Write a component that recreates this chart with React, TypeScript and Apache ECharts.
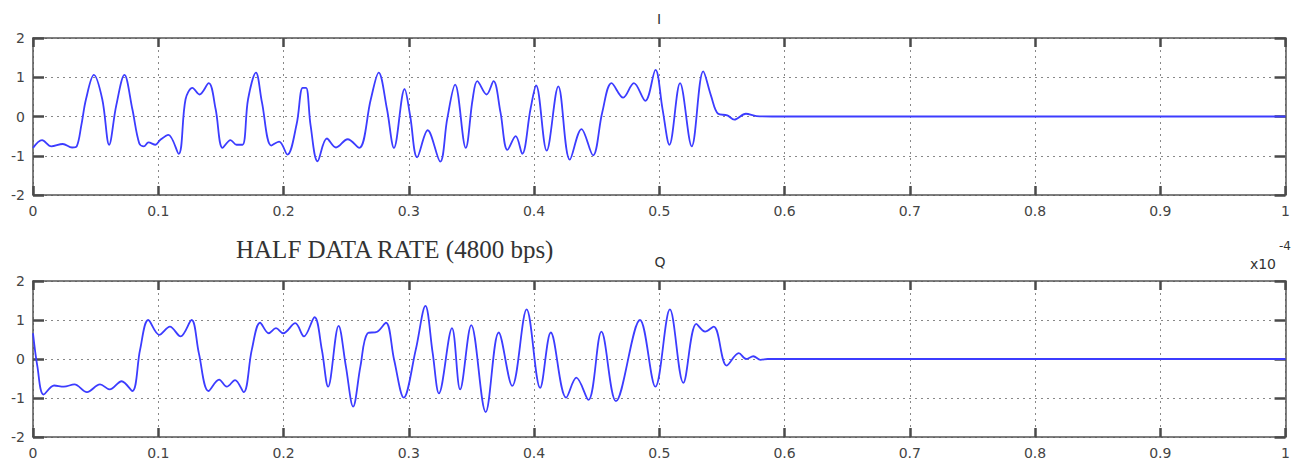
import React, { useEffect, useRef } from "react";
import * as echarts from "echarts";

// Time axis (units of 1e-4 s) and amplitude of the I channel
const iTime = [0, 0.0072, 0.0146, 0.0238, 0.0312, 0.0349, 0.0386, 0.0423, 0.0486, 0.0553, 0.0608, 0.0664, 0.073, 0.0793, 0.0848, 0.0885, 0.0922, 0.0978, 0.1015, 0.1081, 0.1163, 0.1218, 0.1273, 0.1329, 0.1403, 0.1458, 0.1514, 0.1577, 0.1625, 0.1673, 0.1717, 0.178, 0.1828, 0.1902, 0.1965, 0.2031, 0.2105, 0.2153, 0.218, 0.2216, 0.2272, 0.2346, 0.2419, 0.2512, 0.2604, 0.2697, 0.276, 0.2826, 0.2882, 0.2967, 0.3011, 0.3067, 0.3151, 0.3251, 0.3307, 0.337, 0.3455, 0.351, 0.3547, 0.3621, 0.3677, 0.3732, 0.3788, 0.3854, 0.3906, 0.3972, 0.4017, 0.4101, 0.4194, 0.4286, 0.4379, 0.4471, 0.4545, 0.4619, 0.4712, 0.4797, 0.4889, 0.497, 0.5026, 0.5081, 0.5166, 0.5259, 0.5351, 0.5414, 0.547, 0.5543, 0.5599, 0.5691, 0.5776, 0.59, 1.0];
const iAmp = [-0.8, -0.6, -0.76, -0.7, -0.79, -0.76, -0.22, 0.44, 1.06, 0.44, -0.72, 0.27, 1.06, 0.19, -0.68, -0.76, -0.66, -0.72, -0.6, -0.47, -0.95, 0.44, 0.73, 0.56, 0.85, 0.19, -0.8, -0.6, -0.72, -0.72, 0.44, 1.12, 0.36, -0.74, -0.64, -0.97, -0.19, 0.73, 0.73, -0.22, -1.14, -0.56, -0.79, -0.58, -0.8, 0.44, 1.12, 0.19, -0.8, 0.7, 0.02, -1.04, -0.35, -1.15, -0.06, 0.81, -0.8, 0.44, 0.9, 0.56, 0.9, 0.11, -0.85, -0.5, -0.95, 0.19, 0.79, -0.87, 0.77, -1.1, -0.32, -0.99, 0.11, 0.85, 0.48, 0.85, 0.4, 1.19, 0.19, -0.72, 0.85, -0.76, 1.15, 0.52, 0.07, 0.03, -0.08, 0.07, 0.01, 0, 0];

// Time axis and amplitude of the Q channel
const qTime = [0, 0.0035, 0.0085, 0.0169, 0.0246, 0.0331, 0.0431, 0.0535, 0.0612, 0.0708, 0.0793, 0.0855, 0.092, 0.1008, 0.1093, 0.1178, 0.1266, 0.1324, 0.1401, 0.1486, 0.1547, 0.1613, 0.1682, 0.1747, 0.1813, 0.1882, 0.194, 0.1998, 0.2094, 0.2163, 0.2248, 0.2306, 0.2356, 0.244, 0.2498, 0.2556, 0.2614, 0.2671, 0.2748, 0.2818, 0.2883, 0.296, 0.3056, 0.3133, 0.3191, 0.3241, 0.3345, 0.341, 0.3499, 0.3614, 0.3718, 0.3826, 0.3941, 0.4049, 0.4134, 0.4257, 0.4338, 0.4434, 0.4538, 0.4654, 0.4846, 0.4969, 0.5085, 0.5192, 0.5296, 0.5366, 0.5435, 0.5539, 0.5635, 0.5693, 0.5751, 0.5808, 0.5866, 0.6, 1.0];
const qAmp = [0.66, -0.19, -0.91, -0.68, -0.71, -0.65, -0.85, -0.65, -0.78, -0.57, -0.82, 0.24, 1.0, 0.62, 0.83, 0.58, 1.0, 0.15, -0.82, -0.53, -0.71, -0.54, -0.85, 0.24, 0.93, 0.66, 0.79, 0.66, 0.92, 0.58, 1.07, 0.24, -0.71, 0.85, -0.19, -1.22, -0.19, 0.66, 0.7, 0.93, -0.02, -0.99, 0.24, 1.36, 0.15, -0.88, 0.79, -0.78, 0.87, -1.36, 0.68, -0.69, 1.27, -0.74, 0.68, -0.99, -0.48, -1.05, 0.7, -1.08, 1.0, -0.71, 1.27, -0.61, 0.9, 0.7, 0.83, -0.17, 0.15, 0, 0.07, -0.02, 0, 0, 0];

const xTickLabels = ["0", "0.1", "0.2", "0.3", "0.4", "0.5", "0.6", "0.7", "0.8", "0.9", "1"];
const yTickLabels = ["-2", "-1", "0", "1", "2"];

const titles = ["I", "Q"];
const annotation = "HALF DATA RATE (4800 bps)";
const exponentBase = "x10";
const exponent = "-4";

const LINE_COLOR = "#3c3cff";
const AXIS_COLOR = "#555";
const LABEL_FONT = "'DejaVu Sans', 'Liberation Sans', Arial, sans-serif";

export default function App() {
  const ref = useRef<HTMLDivElement>(null);

  useEffect(() => {
    if (!ref.current) return;
    const chart = echarts.init(ref.current, undefined, { renderer: "svg" });

    const grids = [
      { left: 33, top: 38, width: 1256, height: 157 },
      { left: 33, top: 281, width: 1256, height: 156 },
    ];

    const xLabel = (v: number) => xTickLabels[Math.round(v * 10)] ?? "";
    const yLabel = (v: number) => yTickLabels[Math.round(v + 2)] ?? "";

    const gridLine = { show: true, lineStyle: { color: "#888", type: [2, 4] as any, width: 1 } };
    const tick = (len: number) => ({ show: true, inside: true, length: len, interval: 0, lineStyle: { color: "#4a4a4a", width: 2.5, type: "solid" as const } });
    const line = { show: true, onZero: false, lineStyle: { color: AXIS_COLOR, width: 1.5 } };

    const xAxes: any[] = [];
    const yAxes: any[] = [];
    grids.forEach((_, gi) => {
      xAxes.push({
        type: "value", gridIndex: gi, min: 0, max: 1, interval: 0.1, position: "bottom",
        axisLine: line, axisTick: tick(9),
        axisLabel: { formatter: xLabel, color: "#444", fontSize: 14, fontFamily: LABEL_FONT, margin: 9 },
        splitLine: gridLine,
      });
      xAxes.push({
        type: "value", gridIndex: gi, min: 0, max: 1, interval: 0.1, position: "top",
        axisLine: line, axisTick: tick(9),
        axisLabel: { show: false }, splitLine: { show: false },
      });
      yAxes.push({
        type: "value", gridIndex: gi, min: -2, max: 2, interval: 1, position: "left",
        axisLine: line, axisTick: tick(11),
        axisLabel: { formatter: yLabel, color: "#444", fontSize: 14, fontFamily: LABEL_FONT, margin: 8 },
        splitLine: gridLine,
      });
      yAxes.push({
        type: "value", gridIndex: gi, min: -2, max: 2, interval: 1, position: "right",
        axisLine: line, axisTick: tick(11),
        axisLabel: { show: false }, splitLine: { show: false },
      });
    });

    const iData = iTime.map((t, k) => [t, iAmp[k]]);
    const qData = qTime.map((t, k) => [t, qAmp[k]]);

    chart.setOption({
      animation: false,
      backgroundColor: "#ffffff",
      grid: grids.map((g) => ({ ...g, show: false })),
      xAxis: xAxes,
      yAxis: yAxes,
      series: [
        {
          type: "line", xAxisIndex: 0, yAxisIndex: 0, data: iData, showSymbol: false, smooth: 0.35,
          lineStyle: { color: LINE_COLOR, width: 1.8 },
        },
        {
          type: "line", xAxisIndex: 2, yAxisIndex: 2, data: qData, showSymbol: false, smooth: 0.35,
          lineStyle: { color: LINE_COLOR, width: 1.8 },
        },
      ],
      graphic: [
        { type: "text", x: 659, y: 19, style: { text: titles[0], fontSize: 14, fontFamily: LABEL_FONT, fill: "#333", align: "center", verticalAlign: "middle" } },
        { type: "text", x: 660, y: 262, style: { text: titles[1], fontSize: 14, fontFamily: LABEL_FONT, fill: "#333", align: "center", verticalAlign: "middle" } },
        { type: "text", x: 236, y: 249, style: { text: annotation, fontSize: 25, fontFamily: "'Liberation Serif', 'Times New Roman', serif", fill: "#333", align: "left", verticalAlign: "middle" } },
        { type: "text", x: 1276, y: 264, style: { text: exponentBase, fontSize: 14, fontFamily: LABEL_FONT, fill: "#333", align: "right", verticalAlign: "middle" } },
        { type: "text", x: 1279, y: 246, style: { text: exponent, fontSize: 12, fontFamily: LABEL_FONT, fill: "#333", align: "left", verticalAlign: "middle" } },
      ],
    });

    return () => chart.dispose();
  }, []);

  return (
    <div
      ref={ref}
      style={{ position: "fixed", left: 0, top: 0, width: 1293, height: 464, background: "#fff" }}
    />
  );
}
